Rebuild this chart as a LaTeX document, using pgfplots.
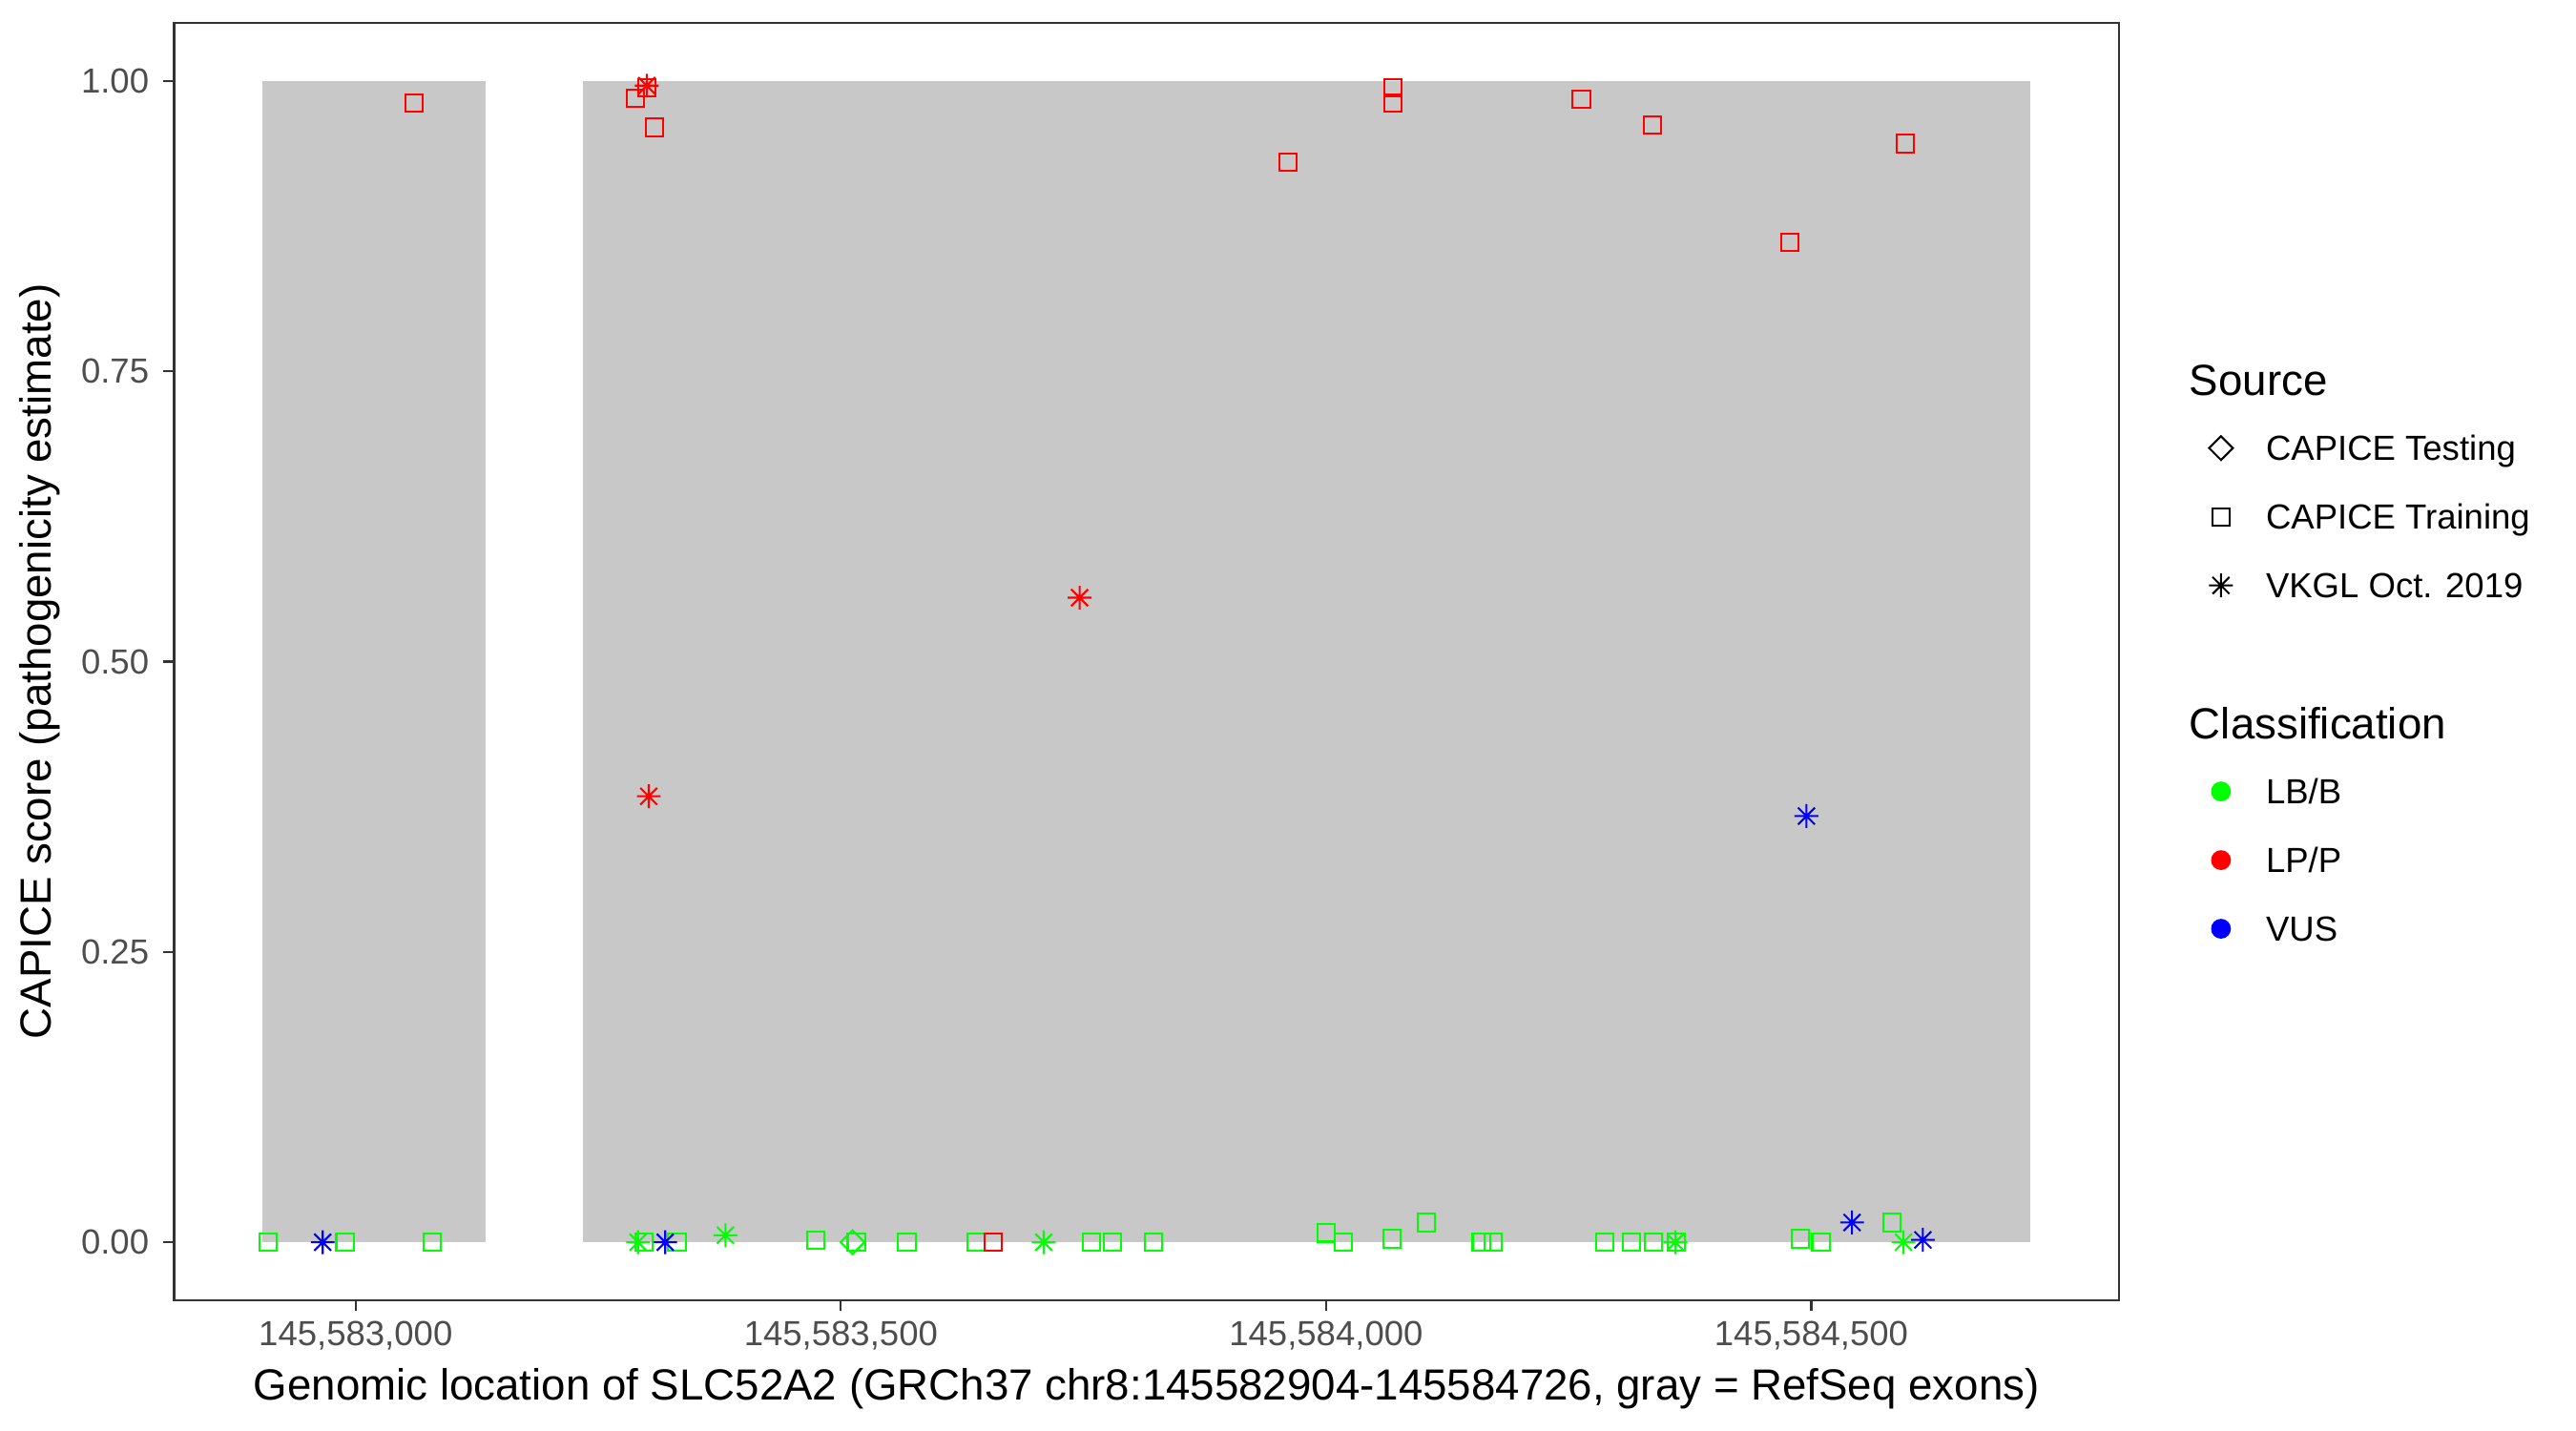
\documentclass[border=0pt]{standalone}
\usepackage{fontspec}
\setmainfont{Liberation Sans}
\usepackage{pgfplots}
\pgfplotsset{compat=1.18}
\definecolor{exon}{RGB}{200,200,200}
\definecolor{lbb}{RGB}{0,255,0}
\definecolor{lpp}{RGB}{255,0,0}
\definecolor{vus}{RGB}{0,0,255}
\definecolor{gtwenty}{RGB}{51,51,51}
\definecolor{gthirty}{RGB}{77,77,77}

\pgfdeclareplotmark{ast8}{%
  \pgfpathmoveto{\pgfqpoint{0pt}{\pgfplotmarksize}}\pgfpathlineto{\pgfqpoint{0pt}{-\pgfplotmarksize}}%
  \pgfpathmoveto{\pgfqpoint{\pgfplotmarksize}{0pt}}\pgfpathlineto{\pgfqpoint{-\pgfplotmarksize}{0pt}}%
  \pgfpathmoveto{\pgfqpoint{0.7071\pgfplotmarksize}{0.7071\pgfplotmarksize}}\pgfpathlineto{\pgfqpoint{-0.7071\pgfplotmarksize}{-0.7071\pgfplotmarksize}}%
  \pgfpathmoveto{\pgfqpoint{0.7071\pgfplotmarksize}{-0.7071\pgfplotmarksize}}\pgfpathlineto{\pgfqpoint{-0.7071\pgfplotmarksize}{0.7071\pgfplotmarksize}}%
  \pgfusepathqstroke}
\pgfdeclareplotmark{sq}{%
  \pgfpathrectangle{\pgfqpoint{-\pgfplotmarksize}{-\pgfplotmarksize}}{\pgfqpoint{2\pgfplotmarksize}{2\pgfplotmarksize}}%
  \pgfusepathqstroke}
\pgfdeclareplotmark{dmd}{%
  \pgfpathmoveto{\pgfqpoint{0pt}{\pgfplotmarksize}}%
  \pgfpathlineto{\pgfqpoint{\pgfplotmarksize}{0pt}}%
  \pgfpathlineto{\pgfqpoint{0pt}{-\pgfplotmarksize}}%
  \pgfpathlineto{\pgfqpoint{-\pgfplotmarksize}{0pt}}%
  \pgfpathclose\pgfusepathqstroke}

\pgfplotsset{
  lgimg/.style={legend image code/.code={\path (-6pt,0pt) (11.1pt,0pt); \draw[##1] plot coordinates {(0pt,0pt)};}},
  trainmk/.style={only marks, mark=sq, mark size=2.2pt, line width=0.5pt},
  vkglmk/.style={only marks, mark=ast8, mark size=3pt, line width=0.5pt},
  testmk/.style={only marks, mark=dmd, mark size=3pt, line width=0.5pt},
}

\begin{document}
\begin{tikzpicture}
\path[use as bounding box] (0,0) rectangle (9in,5in);
% x values are genomic positions minus 145,582,000 (chr8, GRCh37)
\begin{axis}[
  at={(0.6083in,0.4567in)}, anchor=south west,
  scale only axis, width=6.795in, height=4.4633in,
  xmin=812.9, xmax=2817.1, ymin=-0.05, ymax=1.05,
  xtick={1000,1500,2000,2500},
  xticklabels={{145,583,000},{145,583,500},{145,584,000},{145,584,500}},
  ytick={0,0.25,0.5,0.75,1},
  yticklabels={0.00,0.25,0.50,0.75,1.00},
  tick align=outside, tick pos=left, major tick length=2.75pt,
  tick style={gtwenty, line width=0.5pt},
  axis line style={gtwenty, line width=0.5pt},
  ticklabel style={font=\fontsize{8.8}{10}\selectfont, text=gthirty, inner sep=0pt},
  xticklabel style={anchor=north, text height=6.3pt, text depth=0pt, yshift=-2.25pt},
  yticklabel style={anchor=east, xshift=-3.4pt},
  every axis x label/.style={at={(axis description cs:0.5,-0.0784)}, anchor=base},
  every axis y label/.style={at={(axis description cs:-0.0635,0.5)}, rotate=90, anchor=base},
  label style={font=\fontsize{11}{13}\selectfont},
  xlabel={Genomic location of SLC52A2 (GRCh37 chr8:145582904-145584726, gray = RefSeq exons)},
  ylabel={CAPICE score (pathogenicity estimate)},
  legend cell align=left,
  legend style={at={(1.0397,0.7353)}, anchor=north west, draw=none, fill=none,
    inner sep=0pt, outer sep=0pt, column sep=0pt, row sep=8.04pt,
    font=\fontsize{8.8}{10}\selectfont,
    nodes={inner sep=0pt, text height=7.8pt, text depth=1.5pt}},
]
% RefSeq exons
\addplot[fill=exon, draw=none, forget plot] coordinates {(904,0) (1134,0) (1134,1) (904,1)} -- cycle;
\addplot[fill=exon, draw=none, forget plot] coordinates {(1234,0) (2726,0) (2726,1) (1234,1)} -- cycle;

% LB/B, CAPICE Training
\addplot[trainmk, lbb, forget plot] coordinates {
 (910,0) (989,0) (1079,0) (1297,0) (1331,0) (1474,0.002) (1516,0) (1568,0)
 (1639,0) (1758,0) (1780,0) (1822,0) (2000,0.008) (2018,0) (2068,0.003)
 (2103,0.017) (2160,0) (2172,0) (2287,0) (2315,0) (2337,0) (2361,0)
 (2489,0.003) (2510,0) (2583,0.017)};
% LB/B, CAPICE Testing
\addplot[testmk, lbb, forget plot] coordinates {(1512,0)};
% LB/B, VKGL
\addplot[vkglmk, lbb, forget plot] coordinates {(1291,0) (1381,0.006) (1709,0) (2360,0) (2595,0)};
% LP/P, CAPICE Training
\addplot[trainmk, lpp, forget plot] coordinates {
 (1060,0.981) (1288,0.985) (1300,0.994) (1308,0.960) (1657,0) (1961,0.930)
 (2069,0.994) (2069,0.981) (2263,0.984) (2336,0.962) (2478,0.861) (2597,0.946)};
% LP/P, VKGL
\addplot[vkglmk, lpp, forget plot] coordinates {(1300,0.996) (1302,0.384) (1746,0.555)};
% VUS, VKGL
\addplot[vkglmk, vus, forget plot] coordinates {(966,0) (1319,0) (2495,0.367) (2542,0.017) (2615,0.002)};

% Legend
\addlegendimage{empty legend}
\addlegendentry{\hspace*{-19.3pt}\raisebox{-0.8pt}{\fontsize{11}{13}\selectfont Source}}
\addlegendimage{testmk, black, lgimg}
\addlegendentry{CAPICE Testing}
\addlegendimage{trainmk, black, lgimg}
\addlegendentry{CAPICE Training}
\addlegendimage{vkglmk, black, lgimg}
\addlegendentry{VKGL Oct. 2019}
\addlegendimage{empty legend}
\addlegendentry{}
\addlegendimage{empty legend}
\addlegendentry{\hspace*{-19.3pt}\raisebox{-0.8pt}{\fontsize{11}{13}\selectfont Classification}}
\addlegendimage{only marks, mark=*, mark size=2.3pt, lbb, lgimg}
\addlegendentry{LB/B}
\addlegendimage{only marks, mark=*, mark size=2.3pt, lpp, lgimg}
\addlegendentry{LP/P}
\addlegendimage{only marks, mark=*, mark size=2.3pt, vus, lgimg}
\addlegendentry{VUS}
\end{axis}
\end{tikzpicture}
\end{document}
